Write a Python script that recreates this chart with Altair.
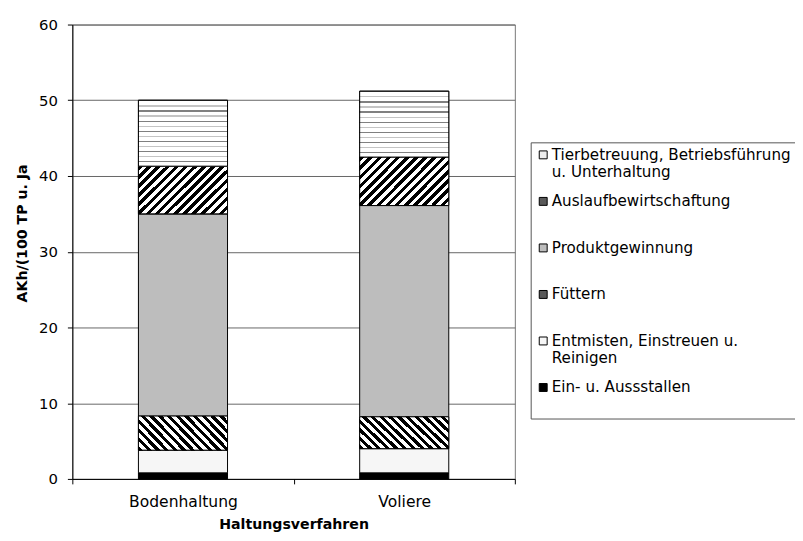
import math
import altair as alt
import pandas as pd

# ---------------- data ----------------
categories = ["Bodenhaltung", "Voliere"]
series = [
    "Ein- u. Aussstallen",
    "Entmisten, Einstreuen u. Reinigen",
    "Füttern",
    "Produktgewinnung",
    "Auslaufbewirtschaftung",
    "Tierbetreuung, Betriebsführung u. Unterhaltung",
]
bodenhaltung = [0.8, 3.0, 4.5, 26.7, 6.3, 8.7]
voliere = [0.8, 3.2, 4.2, 27.9, 6.4, 8.7]
y_ticks = [0, 10, 20, 30, 40, 50, 60]
legend_lines = {
    "Tierbetreuung, Betriebsführung u. Unterhaltung": ["Tierbetreuung, Betriebsführung", "u. Unterhaltung"],
    "Entmisten, Einstreuen u. Reinigen": ["Entmisten, Einstreuen u.", "Reinigen"],
}

rows = []
for cat, vals in zip(categories, [bodenhaltung, voliere]):
    for i, (s, v) in enumerate(zip(series, vals)):
        rows.append({"Haltungsverfahren": cat, "Tätigkeit": s, "AKh": v, "order": i})
df = pd.DataFrame(rows)

# ---------------- layout / style ----------------
W, H = 447, 459
BAR = 90
YMAX = 60
ppu = H / YMAX
FONT = "DejaVu Sans"

legend_order = series[::-1]
legend_fill = ["#ececec", "#5a5a5a", "#bdbdbd", "#5a5a5a", "#f6f6f6", "#000000"]


def stripe_stops(n, inks, frac, paper="#ffffff"):
    stops = []
    for i in range(n):
        ink = inks[i % len(inks)]
        a, b, c = i / n, (i + frac) / n, (i + 1) / n
        stops += [
            alt.GradientStop(offset=round(a, 5), color=ink),
            alt.GradientStop(offset=round(b, 5), color=ink),
            alt.GradientStop(offset=round(b, 5), color=paper),
            alt.GradientStop(offset=round(c, 5), color=paper),
        ]
    return stops


def diagonal(vals, up, period=6.4, frac=0.5):
    h = sum(vals) / len(vals) * ppu
    r = h / BAR
    s = (1 + r) / (1 + r * r)
    n = max(1, round((BAR + h) / math.sqrt(2) / period))
    stops = stripe_stops(n, ["#000000"], frac)
    if up:
        return alt.LinearGradient(gradient="linear", stops=stops, x1=0, y1=0, x2=s, y2=r * s)
    return alt.LinearGradient(gradient="linear", stops=stops, x1=0, y1=1, x2=s, y2=1 - r * s)


def horizontal_lines(vals, period=5.0):
    h = sum(vals) / len(vals) * ppu
    n = max(1, round(h / period))
    stops = stripe_stops(n, ["#808080", "#c4c4c4"], 0.24)
    return alt.LinearGradient(gradient="linear", stops=stops, x1=0, y1=0, x2=0, y2=1)


idx = {s: i for i, s in enumerate(series)}
fill_fuettern = diagonal([bodenhaltung[idx["Füttern"]], voliere[idx["Füttern"]]], up=False)
fill_auslauf = diagonal([bodenhaltung[idx["Auslaufbewirtschaftung"]], voliere[idx["Auslaufbewirtschaftung"]]], up=True)
tb = "Tierbetreuung, Betriebsführung u. Unterhaltung"
fill_tier = horizontal_lines([bodenhaltung[idx[tb]], voliere[idx[tb]]])

# legend label expression (multi-line labels)
expr = "[datum.label, '']"
for k, lines in legend_lines.items():
    arr = "[" + ", ".join("'" + l + "'" for l in lines) + "]"
    expr = f"datum.label == '{k}' ? {arr} : " + expr

base = alt.Chart(df).transform_stack(
    stack="AKh",
    groupby=["Haltungsverfahren"],
    sort=[alt.SortField("order", order="ascending")],
    as_=["y0", "y1"],
)

x_enc = alt.X(
    "Haltungsverfahren:N",
    sort=categories,
    scale=alt.Scale(paddingInner=0, paddingOuter=0),
    axis=alt.Axis(
        title="Haltungsverfahren",
        titleFont=FONT,
        titleFontSize=14.3,
        titleFontWeight="bold",
        titleColor="black",
        titleY=39,
        labelFont=FONT,
        labelFontSize=15.7,
        labelColor="black",
        labelAngle=0,
        labelPadding=10.6,
        tickBand="extent",
        tickSize=5,
        tickColor="black",
        domainColor="black",
        grid=False,
    ),
)
y_enc = alt.Y(
    "y0:Q",
    scale=alt.Scale(domain=[0, YMAX], nice=False),
    axis=alt.Axis(
        values=y_ticks,
        title="AKh/(100 TP u. Ja",
        titleFont=FONT,
        titleFontSize=14.3,
        titleFontWeight="bold",
        titleColor="black",
        titleAngle=-90,
        titleX=-43,
        titleY=210.5,
        labelFont=FONT,
        labelFontSize=15,
        labelColor="black",
        labelPadding=10,
        tickSize=5,
        tickColor="black",
        domainColor="black",
        grid=True,
        gridColor="#666666",
        gridWidth=1,
    ),
)

bars = base.mark_bar(size=BAR, stroke="black", strokeWidth=1).encode(
    x=x_enc,
    y=y_enc,
    y2="y1:Q",
    color=alt.Color(
        "Tätigkeit:N",
        scale=alt.Scale(domain=legend_order, range=legend_fill),
        legend=alt.Legend(
            title=None,
            orient="none",
            legendX=463,
            legendY=119,
            padding=5,
            strokeColor="#555555",
            fillColor="white",
            labelFont=FONT,
            labelFontSize=15.3,
            labelColor="black",
            labelLimit=500,
            labelOffset=1,
            labelExpr=expr,
            symbolType="square",
            symbolSize=64,
            symbolStrokeColor="black",
            symbolStrokeWidth=1,
            rowPadding=13,
        ),
    ),
)


def overlay(name, fill):
    return base.transform_filter(alt.datum["Tätigkeit"] == name).mark_bar(
        size=BAR, fill=fill, stroke="black", strokeWidth=1
    ).encode(x=x_enc, y=y_enc, y2="y1:Q")


chart = alt.layer(
    bars,
    overlay("Füttern", fill_fuettern),
    overlay("Auslaufbewirtschaftung", fill_auslauf),
    overlay(tb, fill_tier),
).properties(
    width=W,
    height=H,
    autosize=alt.AutoSizeParams(type="none"),
    padding={"left": 65, "top": 14, "right": 283, "bottom": 60},
    background="white",
).configure_view(stroke="#777777", strokeWidth=1)

chart.save("out.html", embed_options={"renderer": "svg", "actions": False})
